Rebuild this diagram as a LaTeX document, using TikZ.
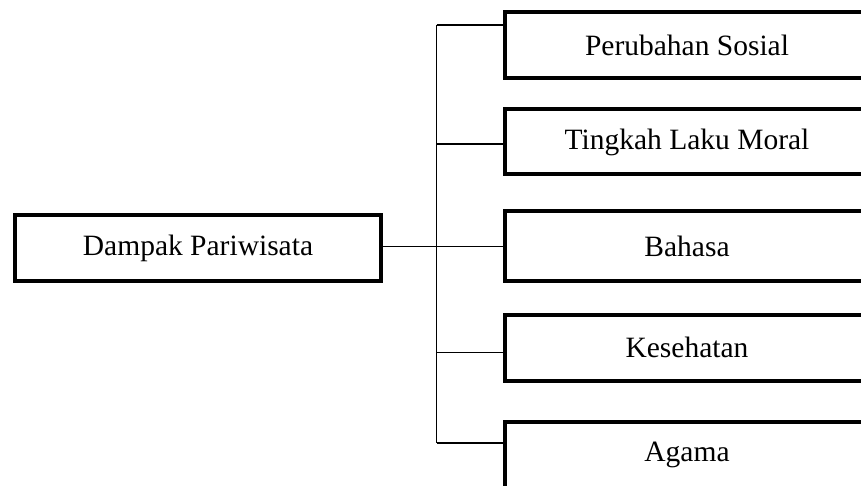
\documentclass[tikz,border=0pt]{standalone}
\usepackage{fontspec}
\setmainfont{Liberation Serif}
\begin{document}
\begin{tikzpicture}[x=1pt,y=1pt,
  box/.style={draw=black, line width=4pt, rectangle, inner sep=0pt, font=\fontsize{29.5}{34}\selectfont},
  lbox/.style={box, minimum width=366pt, minimum height=66pt},
  rbox/.style={box, minimum width=365pt},
  conn/.style={draw=black, line width=1.4pt}]
\useasboundingbox (0,0) rectangle (861,-486);
\clip (0,0) rectangle (861,-486);
\node[lbox] (L) at (198,-248) {Dampak Pariwisata};
\node[rbox, minimum height=66pt] (b1) at (687,-45.5) {Perubahan Sosial};
\node[rbox, minimum height=65pt] (b2) at (687,-142) {Tingkah Laku Moral};
\node[rbox, minimum height=69pt] (b3) at (687,-246) {Bahasa};
\node[rbox, minimum height=66pt] (b4) at (687,-347.5) {Kesehatan};
\node[rbox, minimum height=67pt] (b5) at (687,-455) {Agama};
\coordinate (j1) at (436.7,-25);
\coordinate (j2) at (436.7,-144);
\coordinate (j3) at (436.7,-246.5);
\coordinate (j4) at (436.7,-352.5);
\coordinate (j5) at (436.7,-443);
\draw[conn] (L.east |- j3) -- (j3);
\draw[conn] (j1) -- (j5);
\draw[conn] (j1) -- (b1.west |- j1);
\draw[conn] (j2) -- (b2.west |- j2);
\draw[conn] (j3) -- (b3.west |- j3);
\draw[conn] (j4) -- (b4.west |- j4);
\draw[conn] (j5) -- (b5.west |- j5);
\end{tikzpicture}
\end{document}
